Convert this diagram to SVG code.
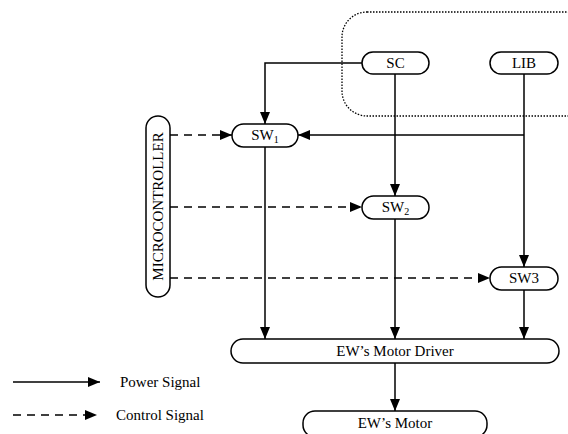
<svg xmlns="http://www.w3.org/2000/svg" width="568" height="434" viewBox="0 0 568 434">
<defs>
<marker id="ah" markerUnits="userSpaceOnUse" markerWidth="14" markerHeight="12" refX="12" refY="5" orient="auto">
<path d="M0,0 L12,5 L0,10 z" fill="#000"/>
</marker>
<style>
.n{fill:#fff;stroke:#000;stroke-width:1.5}
text{font-family:'Liberation Serif','Times New Roman','DejaVu Serif',serif;font-size:15px;fill:#000}
.t{text-anchor:middle}
.p{fill:none;stroke:#000;stroke-width:1.5;marker-end:url(#ah)}
.d{fill:none;stroke:#000;stroke-width:1.5;stroke-dasharray:8 6;marker-end:url(#ah)}
</style>
</defs>
<rect width="568" height="434" fill="#fff"/>
<rect id="group-box" x="342" y="12" width="250" height="104" rx="25" fill="none" stroke="#000" stroke-width="1.3" stroke-dasharray="1.5 1.5"/>
<g id="connectors">
<path class="p" d="M362,63 H265 V124"/>
<path class="p" d="M395,74 V196"/>
<path class="p" d="M524,74 V267"/>
<path class="p" d="M524,135 H298"/>
<path class="p" d="M265,147 V339"/>
<path class="p" d="M395,219 V339"/>
<path class="p" d="M524,290 V339"/>
<path class="p" d="M395,363 V411"/>
<path class="d" d="M170,135 H232"/>
<path class="d" d="M170,207 H362"/>
<path class="d" d="M170,278 H490"/>
</g>
<g id="sc"><rect class="n" x="362" y="52" width="67" height="22" rx="11"/><text class="t" x="395.5" y="68">SC</text></g>
<g id="lib"><rect class="n" x="490" y="52" width="68" height="22" rx="11"/><text class="t" x="524" y="68">LIB</text></g>
<g id="sw1"><rect class="n" x="232" y="124" width="66" height="23" rx="11.5"/><text class="t" x="265" y="140">SW<tspan font-size="10" dy="3">1</tspan></text></g>
<g id="sw2"><rect class="n" x="362" y="196" width="67" height="23" rx="11.5"/><text class="t" x="395.5" y="212">SW<tspan font-size="10" dy="3">2</tspan></text></g>
<g id="sw3"><rect class="n" x="490" y="267" width="68" height="23" rx="11.5"/><text class="t" x="524" y="283">SW3</text></g>
<g id="microcontroller"><rect class="n" x="146" y="116" width="24" height="181" rx="12"/><text class="t" transform="translate(162.5,206.5) rotate(-90)" x="0" y="0">MICROCONTROLLER</text></g>
<g id="driver"><rect class="n" x="231" y="339" width="328" height="24" rx="12"/><text class="t" x="395" y="356">EW’s Motor Driver</text></g>
<g id="motor"><rect class="n" x="303" y="411" width="184" height="26" rx="12"/><text class="t" x="395" y="428">EW’s Motor</text></g>
<g id="legend">
<path class="p" d="M13,382 H100"/>
<text x="120" y="387">Power Signal</text>
<path class="d" d="M13,415 H97"/>
<text x="116" y="420">Control Signal</text>
</g>
</svg>
